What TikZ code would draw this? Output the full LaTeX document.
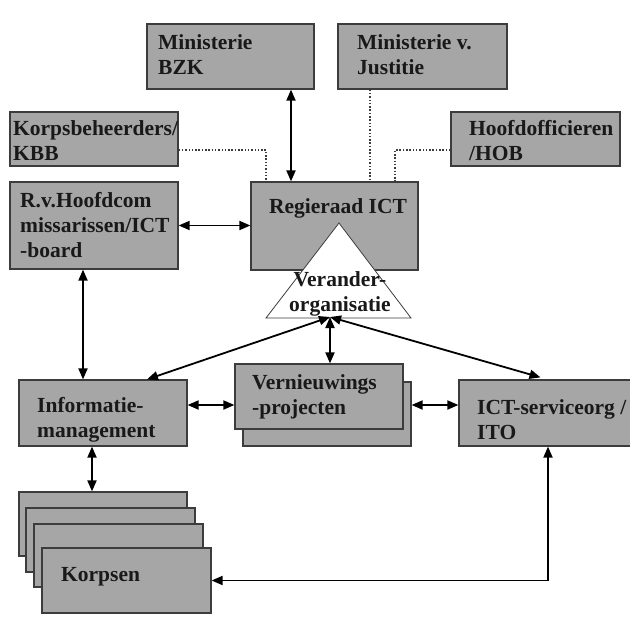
\documentclass[tikz,border=0pt]{standalone}
\usepackage{fontspec}
\setmainfont{Liberation Serif}
\usetikzlibrary{arrows.meta}
\definecolor{boxgray}{RGB}{166,166,166}
\definecolor{edgegray}{RGB}{60,60,60}
\begin{document}
\begin{tikzpicture}[x=1pt,y=-1pt,
  box/.style={draw=edgegray, line width=1.2pt, fill=boxgray, inner sep=0pt},
  txt/.style={font=\bfseries\fontsize{21.5}{25}\selectfont, align=left, inner sep=0pt, anchor=west, text=black!90},
  ctxt/.style={font=\bfseries\fontsize{21.5}{25}\selectfont, align=center, inner sep=0pt, text=black!90},
  arr/.style={{Triangle[length=11pt,width=9pt]}-{Triangle[length=11pt,width=9pt]}, line width=1.8pt},
  dotline/.style={draw=edgegray, line width=1.4pt, dash pattern=on 1.5pt off 1.8pt}]
\useasboundingbox (0,0) rectangle (630,624);

% boxes
\node[box, minimum width=167pt, minimum height=65pt] (bzk) at (230.5,56.5) {};
\node[box, minimum width=169pt, minimum height=65pt] (jus) at (422.5,56.5) {};
\node[box, minimum width=168pt, minimum height=54pt] (kbb) at (94,139) {};
\node[box, minimum width=169pt, minimum height=54pt] (hob) at (535.5,139) {};
\node[box, minimum width=168pt, minimum height=87pt] (rvh) at (94,225.5) {};
\node[box, minimum width=167pt, minimum height=88pt] (reg) at (334.5,226) {};
\node[box, minimum width=168pt, minimum height=66pt] (info) at (103,413) {};
\node[box, minimum width=168pt, minimum height=64pt] (vernB) at (327,414) {};
\node[box, minimum width=168pt, minimum height=65pt] (vern) at (319,396.5) {};
\node[box, minimum width=173pt, minimum height=66pt] (ict) at (545.5,413) {};
\node[box, minimum width=168pt, minimum height=64pt] (k1) at (103,524) {};
\node[box, minimum width=169pt, minimum height=64pt] (k2) at (110.5,540) {};
\node[box, minimum width=169pt, minimum height=63pt] (k3) at (118.5,555.5) {};
\node[box, minimum width=169pt, minimum height=65pt] (k4) at (126.5,580.5) {};

% triangle
\draw[fill=white, draw=edgegray, line width=0.8pt] (339,223) -- (266,318) -- (411,318) -- cycle;
\coordinate (hub) at (330,317);

% texts
\node[txt] (bzkT) at (158,55) {Ministerie\\BZK};
\node[txt] (jusT) at (357,55) {Ministerie v.\\Justitie};
\node[txt] (kbbT) at (13,141) {Korpsbeheerders/\\KBB};
\node[txt] (hobT) at (469,141) {Hoofdofficieren\\/HOB};
\node[txt] (rvhT) at (20,225) {R.v.Hoofdcom\\missarissen/ICT\\-board};
\node[ctxt] (regT) at (338,208) {Regieraad ICT};
\node[ctxt] (triT) at (340,294) {Verander-\\organisatie};
\node[txt] (infoT) at (37,420) {Informatie-\\management};
\node[txt] (vernT) at (252,397) {Vernieuwings\\-projecten};
\node[txt] (ictT) at (477,420) {ICT-serviceorg /\\ITO};
\node[txt] (korT) at (61,577) {Korpsen};

% dotted connectors
\draw[dotline] ([xshift=-52.5pt]jus.south) -- ([xshift=-52.5pt]jus.south |- reg.north);
\draw[dotline] ([yshift=-11pt]kbb.east) -| ([xshift=-68.5pt]reg.north);
\draw[dotline] ([yshift=-11pt]hob.west) -| ([xshift=60.5pt]reg.north);

% arrows
\draw[arr] ([xshift=60.5pt]bzk.south) -- ([xshift=60.5pt]bzk.south |- reg.north);
\draw[arr] (rvh.east) -- (rvh.east -| reg.west);
\draw[arr] ([xshift=-11pt]rvh.south) -- ([xshift=-11pt]rvh.south |- info.north);
\draw[arr] ([yshift=8pt]info.east) -- ([yshift=8pt]info.east -| vern.west);
\draw[arr] ([yshift=8pt]ict.west) -- ([yshift=8pt]ict.west -| vernB.east);
\draw[arr] ([xshift=-11pt]info.south) -- ([xshift=-11pt]info.south |- k1.north);
\draw[arr] ([xshift=2.5pt]ict.south) |- (k4.east);
\draw[arr] (hub) -- ([xshift=44pt]info.north);
\draw[arr] (hub) -- ([xshift=11pt]vern.north);
\draw[arr] (hub) -- ([xshift=-5pt,yshift=2pt]ict.north);
\end{tikzpicture}
\end{document}
